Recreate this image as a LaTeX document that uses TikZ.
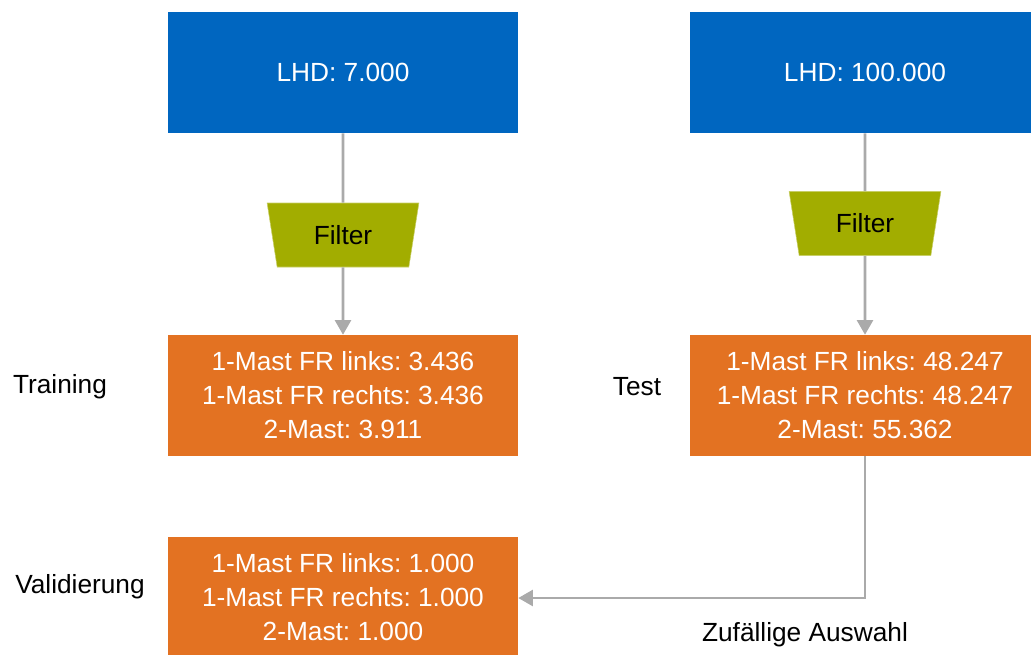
\documentclass[tikz,border=0pt]{standalone}
\usepackage{fontspec}
\setmainfont{Liberation Sans}
\usetikzlibrary{shapes.geometric,arrows.meta}
\definecolor{boxblue}{RGB}{0,102,192}
\definecolor{boxorange}{RGB}{227,114,34}
\definecolor{filterolive}{RGB}{162,173,0}
\definecolor{linegray}{RGB}{170,170,170}
\frenchspacing
\begin{document}
\begin{tikzpicture}[x=0.75pt,y=-0.75pt,
  every node/.style={font=\fontsize{19.7}{25.5}\selectfont},
  sourcebox/.style={rectangle,fill=boxblue,text=white,minimum width=262.5pt,minimum height=90.75pt,inner sep=0pt,align=center},
  setbox/.style={rectangle,fill=boxorange,text=white,minimum width=262.5pt,minimum height=90.75pt,inner sep=0pt,align=center},
  filterbox/.style={trapezium,trapezium stretches=true,shape border rotate=180,trapezium left angle=77,trapezium right angle=77,fill=filterolive,draw=filterolive!60!white,line width=0.4pt,text=black,minimum width=114pt,minimum height=48pt,inner sep=0pt},
  flow/.style={draw=linegray,line width=2pt,-{Triangle[length=11pt,width=12pt]}},
  plain/.style={draw=linegray,line width=2pt},
  label/.style={text=black}]
\useasboundingbox (0,0) rectangle (1031,654);
\node[sourcebox] (lhd1) at (343,72.5) {LHD: 7.000};
\node[sourcebox] (lhd2) at (865,72.5) {LHD: 100.000};
\node[filterbox] (f1) at (343,235) {Filter};
\node[filterbox] (f2) at (865,223.5) {Filter};
\node[setbox] (train) at (343,395.5) {1-Mast FR links: 3.436\\1-Mast FR rechts: 3.436\\2-Mast: 3.911};
\node[setbox] (test) at (865,395.5) {1-Mast FR links: 48.247\\1-Mast FR rechts: 48.247\\2-Mast: 55.362};
\node[setbox] (val) at (343,597.5) {1-Mast FR links: 1.000\\1-Mast FR rechts: 1.000\\2-Mast: 1.000};
\node[label] (ltrain) at (60,387) {Training};
\node[label] (ltest) at (637,387) {Test};
\node[label] (lval) at (80,587) {Validierung};
\node[label] (lzuf) at (805,635) {Zufällige Auswahl};
\draw[plain] (lhd1.south) -- (f1.north);
\draw[flow] (f1.south) -- (train.north);
\draw[plain] (lhd2.south) -- (f2.north);
\draw[flow] (f2.south) -- (test.north);
\draw[flow] (test.south) |- (val.east |- 0,598);
\end{tikzpicture}
\end{document}
